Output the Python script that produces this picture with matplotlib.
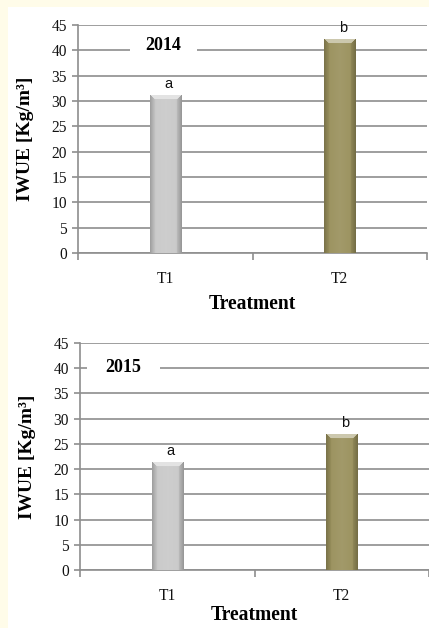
import numpy as np
import matplotlib
matplotlib.use("Agg")
import matplotlib.pyplot as plt
from matplotlib.patches import Rectangle
from matplotlib.colors import to_rgb

# Data
treatments = ["T1", "T2"]
years = ["2014", "2015"]
iwue_2014 = [31.2, 42.3]
iwue_2015 = [21.5, 27.0]
letters_2014 = ["a", "b"]
letters_2015 = ["a", "b"]
y_ticks = [0, 5, 10, 15, 20, 25, 30, 35, 40, 45]

bar_colors = ["#c9c9c9", "#9a915d"]
grid_color = "#8e8e8e"
serif = ["Liberation Serif", "DejaVu Serif"]
sans = ["Liberation Sans", "DejaVu Sans"]

W, H, DPI = 429, 628, 100
fig = plt.figure(figsize=(W / DPI, H / DPI), dpi=DPI, facecolor="#fffce9")
fig.patches.append(Rectangle((8 / W, 0), 1 - 8 / W, 1 - 7 / H, transform=fig.transFigure,
                             facecolor="white", edgecolor="none", zorder=-10))


def shade(color, f):
    c = np.array(to_rgb(color))
    if f >= 1:
        return c + (1 - c) * (f - 1)
    return c * f


def bevel_image(color, w_px, h_px, b=5):
    w_px = max(int(round(w_px)), 2)
    h_px = max(int(round(h_px)), 2)
    img = np.zeros((h_px, w_px, 3))
    for r in range(h_px):
        for c in range(w_px):
            dl, dr, dt = c, w_px - 1 - c, r
            u = (c + 0.5) / w_px
            if dt < b and dt <= min(dl, dr):
                col = shade(color, 1.5)
            elif dl < b:
                col = shade(color, 0.80 + 0.2 * dl / b)
            elif dr < b:
                col = shade(color, 0.76 + 0.2 * dr / b)
            else:
                col = shade(color, 1.0 + 0.08 * (1 - abs(u - 0.5) * 2))
            img[r, c] = np.clip(col, 0, 1)
    return img


def draw_panel(rect, values, letters, year, year_box, xlabel_y):
    ax = fig.add_axes(rect)
    ax.set_facecolor("none")
    ax.set_xlim(-0.5, 1.5)
    ax.set_ylim(0, 45)
    x = np.arange(len(treatments))
    width = 0.18
    bars = ax.bar(x, values, width=width, color=bar_colors, edgecolor="none", zorder=2)
    px_per_x = ax.bbox.width / 2.0
    px_per_y = ax.bbox.height / 45.0
    for bar, col, val, let in zip(bars, bar_colors, values, letters):
        x0 = bar.get_x()
        img = bevel_image(col, width * px_per_x, val * px_per_y)
        im = ax.imshow(img, extent=[x0, x0 + width, 0, val], aspect="auto",
                       interpolation="bilinear", zorder=3)
        im.set_clip_path(bar)
        ax.annotate(let, (bar.get_x() + width / 2 + 0.02, val), xytext=(0, 2.5),
                    textcoords="offset points", ha="center", va="bottom",
                    fontsize=10.5, family=sans, color="#111111", zorder=4)
    ax.set_xlim(-0.5, 1.5)
    ax.set_ylim(0, 45)

    ax.set_yticks(y_ticks)
    ax.yaxis.grid(True, color=grid_color, linewidth=1.2, zorder=1)
    ax.set_axisbelow(True)
    ax.tick_params(axis="y", length=4, width=1.2, color=grid_color, pad=4,
                   labelsize=11.2, labelcolor="#111111")
    for lab in ax.get_yticklabels():
        lab.set_family(serif)

    ax.set_xticks(x)
    ax.set_xticklabels(treatments, family=serif, fontsize=11.2, color="#111111")
    ax.tick_params(axis="x", which="major", length=0, pad=13)
    ax.set_xticks([-0.5, 0.5, 1.5], minor=True)
    ax.tick_params(axis="x", which="minor", length=5, width=1.2, color=grid_color)

    for s in ["top", "right"]:
        ax.spines[s].set_visible(False)
    for s in ["left", "bottom"]:
        ax.spines[s].set_color(grid_color)
        ax.spines[s].set_linewidth(1.2)

    ax.text(0.5, xlabel_y, "Treatment", transform=ax.transAxes, ha="center", va="center",
            fontsize=14.1, fontweight="bold", family=serif)
    ax.text(-0.149, 0.5, "IWUE [Kg/m\u00b3]", transform=ax.transAxes, ha="center",
            va="center", rotation=90, fontsize=14, fontweight="bold", family=serif)

    bx, bw, ty = year_box
    ax.add_patch(Rectangle((bx, ty - 0.04), bw, 0.08, transform=ax.transAxes,
                           facecolor="white", edgecolor="none", zorder=1.5))
    ax.text(bx + bw / 2, ty, year, transform=ax.transAxes, ha="center", va="center",
            fontsize=13, fontweight="bold", family=serif, zorder=4)
    return ax


draw_panel([78 / W, 1 - 253 / H, 349 / W, 228 / H], iwue_2014, letters_2014, years[0],
           ((130 - 78) / 349, 67 / 349, (253 - 46) / 228), -0.222)
draw_panel([80 / W, 1 - 570 / H, 349 / W, 227 / H], iwue_2015, letters_2015, years[1],
           ((87 - 80) / 349, 73 / 349, (570 - 368) / 227), -0.2)

fig.savefig("out.png", dpi=DPI, facecolor=fig.get_facecolor())
